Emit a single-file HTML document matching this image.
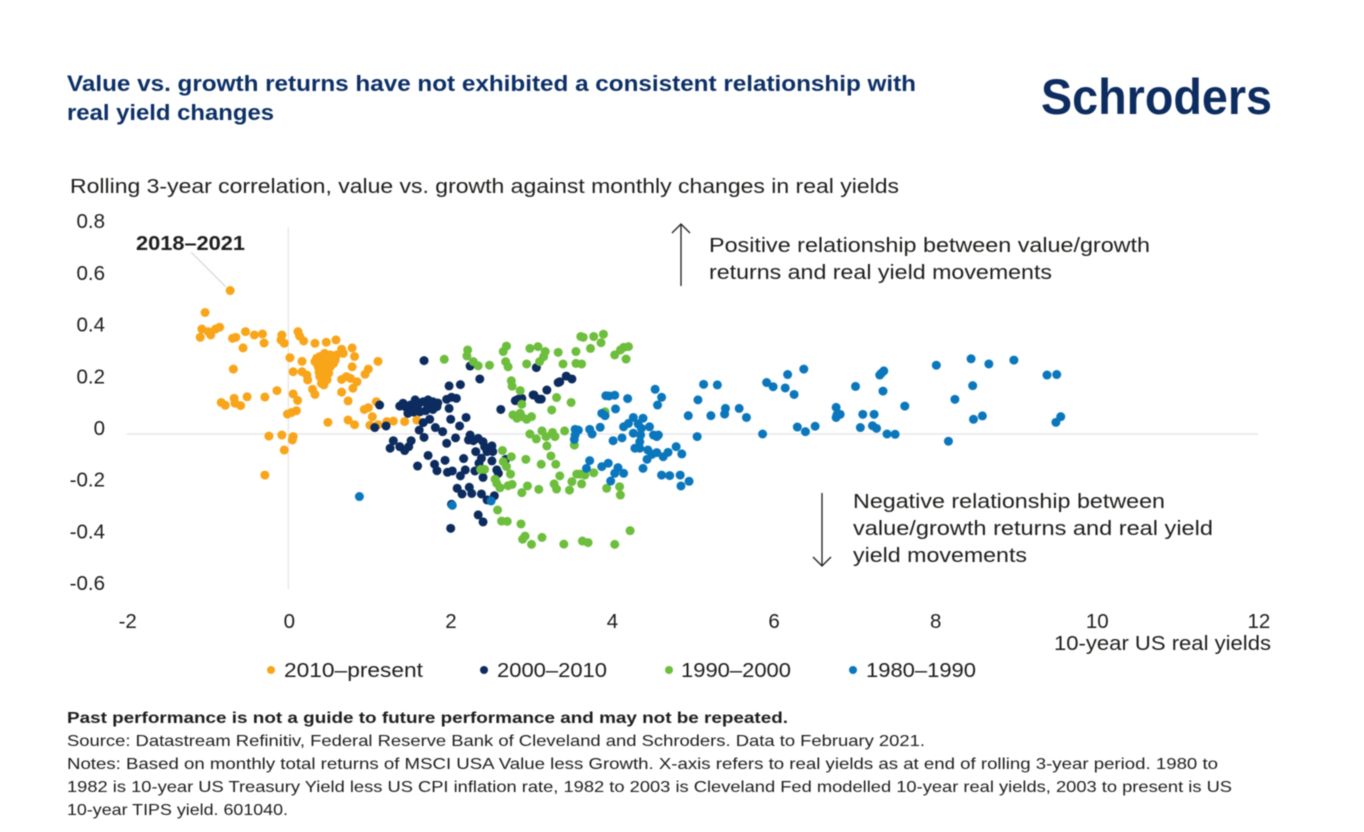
<!DOCTYPE html>
<html lang="en">
<head>
<meta charset="utf-8">
<title>Value vs. growth returns and real yield changes</title>
<style>
html,body{margin:0;padding:0;background:#fff;width:1364px;height:832px;overflow:hidden}
svg{display:block;filter:blur(0.45px)}
text{font-family:"Liberation Sans",sans-serif;fill:#1d1d1b}
.t20{font-size:20.5px}
.foot{font-size:16px}
.title{font-size:22px;font-weight:700;fill:#0c2f66}
</style>
</head>
<body>
<svg id="chart" xmlns="http://www.w3.org/2000/svg" width="1364" height="832" viewBox="0 0 1364 832">
  <rect x="0" y="0" width="1364" height="832" fill="#ffffff"/>
  <text class="title" x="67" y="91" textLength="849" lengthAdjust="spacingAndGlyphs">Value vs. growth returns have not exhibited a consistent relationship with</text>
  <text class="title" x="67" y="120" textLength="207" lengthAdjust="spacingAndGlyphs">real yield changes</text>
  <text x="1041" y="114" font-size="50" font-weight="700" style="fill:#0d2c5f" textLength="231" lengthAdjust="spacingAndGlyphs">Schroders</text>
  <text class="t20" x="70" y="193" textLength="829" lengthAdjust="spacingAndGlyphs">Rolling 3-year correlation, value vs. growth against monthly changes in real yields</text>

  <g id="axes"></g>
  <g id="points"></g>

  <line x1="191" y1="252" x2="226" y2="287" stroke="#d6d6d6" stroke-width="1.2"/>
  <text x="136" y="250" font-size="20" font-weight="700" textLength="109" lengthAdjust="spacingAndGlyphs">2018–2021</text>

  <g fill="none" stroke="#1d1d1b" stroke-width="1.3">
    <line x1="681" y1="286" x2="681" y2="224"/>
    <path d="M672 233 L681 224 L690 233"/>
  </g>
  <text class="t20" x="709" y="252" textLength="441" lengthAdjust="spacingAndGlyphs">Positive relationship between value/growth</text>
  <text class="t20" x="709" y="279" textLength="343" lengthAdjust="spacingAndGlyphs">returns and real yield movements</text>

  <g fill="none" stroke="#1d1d1b" stroke-width="1.3">
    <line x1="822" y1="493" x2="822" y2="566"/>
    <path d="M813 557 L822 566 L831 557"/>
  </g>
  <text class="t20" x="853" y="508" textLength="312" lengthAdjust="spacingAndGlyphs">Negative relationship between</text>
  <text class="t20" x="853" y="535" textLength="360" lengthAdjust="spacingAndGlyphs">value/growth returns and real yield</text>
  <text class="t20" x="853" y="562" textLength="174" lengthAdjust="spacingAndGlyphs">yield movements</text>

  <text class="t20" x="1054" y="650" textLength="217" lengthAdjust="spacingAndGlyphs">10-year US real yields</text>

  <g>
    <circle cx="271" cy="670" r="4" fill="#f9a51a"/>
    <text class="t20" x="284" y="677" textLength="139" lengthAdjust="spacingAndGlyphs">2010–present</text>
    <circle cx="484" cy="670" r="4" fill="#0c2b5e"/>
    <text class="t20" x="497" y="677" textLength="110" lengthAdjust="spacingAndGlyphs">2000–2010</text>
    <circle cx="669" cy="670" r="4" fill="#6cbe3c"/>
    <text class="t20" x="681" y="677" textLength="110" lengthAdjust="spacingAndGlyphs">1990–2000</text>
    <circle cx="853" cy="670" r="4" fill="#0a77bd"/>
    <text class="t20" x="866" y="677" textLength="110" lengthAdjust="spacingAndGlyphs">1980–1990</text>
  </g>

  <text class="foot" x="67" y="723" font-weight="700" textLength="721" lengthAdjust="spacingAndGlyphs">Past performance is not a guide to future performance and may not be repeated.</text>
  <text class="foot" x="67" y="746" textLength="858" lengthAdjust="spacingAndGlyphs">Source: Datastream Refinitiv, Federal Reserve Bank of Cleveland and Schroders. Data to February 2021.</text>
  <text class="foot" x="67" y="769" textLength="1151" lengthAdjust="spacingAndGlyphs">Notes: Based on monthly total returns of MSCI USA Value less Growth. X-axis refers to real yields as at end of rolling 3-year period. 1980 to</text>
  <text class="foot" x="67" y="792" textLength="1165" lengthAdjust="spacingAndGlyphs">1982 is 10-year US Treasury Yield less US CPI inflation rate, 1982 to 2003 is Cleveland Fed modelled 10-year real yields, 2003 to present is US</text>
  <text class="foot" x="67" y="815" textLength="221" lengthAdjust="spacingAndGlyphs">10-year TIPS yield. 601040.</text>
</svg>

<script>
const xTickLabels = ["-2", "0", "2", "4", "6", "8", "10", "12"];
const yTickLabels = ["0.8", "0.6", "0.4", "0.2", "0", "-0.2", "-0.4", "-0.6"];

const series2010 = [
[-0.72,0.555],[-1.03,0.47],[-1.07,0.406],[-1.09,0.374],[-0.99,0.396],[-0.96,0.383],[-0.9,0.406],[-0.85,0.413],[-0.69,0.37],[-0.65,0.374],
[-0.53,0.396],[-0.42,0.383],[-0.32,0.387],[-0.3,0.352],[-0.56,0.333],[-0.08,0.383],[-0.09,0.364],[-0.05,0.351],[0.12,0.396],[0.14,0.379],
[0.19,0.36],[0.33,0.351],[0.47,0.355],[0.59,0.364],[0.66,0.328],[0.79,0.333],[0.82,0.3],[1.11,0.281],[0.99,0.251],[0.95,0.231],
[0.79,0.26],[0.02,0.295],[0.17,0.281],[0.06,0.241],[0.17,0.241],[0.23,0.228],[0.24,0.209],[-0.68,0.251],
[0.33,0.28],[0.39,0.3],[0.45,0.312],[0.52,0.306],[0.6,0.306],[0.68,0.312],[0.37,0.26],[0.43,0.273],[0.5,0.28],[0.56,0.273],
[0.41,0.248],[0.47,0.248],[0.39,0.222],[0.45,0.222],[0.41,0.196],[0.5,0.235],[0.58,0.286],[0.35,0.293],
[0.36,0.27],[0.42,0.29],[0.48,0.3],[0.54,0.29],[0.4,0.265],[0.46,0.265],[0.52,0.26],[0.38,0.24],[0.44,0.235],[0.42,0.21],[0.48,0.21],[0.44,0.19],
[0.66,0.211],[0.72,0.222],[0.77,0.215],[0.85,0.202],[0.8,0.177],[0.66,0.162],[0.74,0.128],[0.3,0.173],[0.33,0.153],[-0.14,0.168],
[-0.29,0.143],[-0.51,0.144],[-0.67,0.138],[-0.83,0.122],[-0.78,0.111],[-0.66,0.119],[-0.59,0.11],[0.06,0.155],[0.115,0.13],[0.1,0.09],
[0.04,0.083],[-0.01,0.077],[0.49,0.045],[0.74,0.054],[0.82,0.036],[0.94,0.095],[0.99,0.102],[1.09,0.125],[1.04,0.067],[1.01,0.034],
[1.11,0.036],[1.22,0.048],[1.3,0.05],[1.44,0.048],[1.59,0.054],[-0.24,-0.008],[-0.08,-0.004],[0.06,-0.01],[0.05,-0.023],[-0.05,-0.062],[-0.29,-0.159]
];

const series2000 = [
[1.68,0.284],[2.25,0.263],[2.37,0.213],[1.99,0.186],[2.13,0.191],[3.07,0.257],[2.63,0.095],[2.83,0.132],[2.89,0.138],[3.04,0.151],
[3.1,0.135],[1.13,0.112],[1.07,0.025],[1.21,0.031],[1.38,0.108],[1.42,0.119],[1.51,0.112],[1.57,0.132],[1.53,0.099],[1.48,0.08],
[1.45,0.105],[1.6,0.11],[1.7,0.09],[1.55,0.085],[1.85,0.12],[1.62,0.12],
[1.63,0.086],[1.67,0.125],[1.73,0.132],[1.79,0.125],[1.84,0.106],[1.73,0.108],[1.79,0.095],[1.96,0.134],[2.02,0.142],[2.08,0.138],
[1.99,0.099],[1.75,0.057],[1.67,0.044],[1.62,0.015],[1.68,-0.013],[1.82,0.025],[1.91,0.009],[2.01,0.057],[2.2,0.064],[2.12,0.031],
[2.07,-0.015],[1.96,-0.036],[1.3,-0.026],[1.26,-0.055],[1.38,-0.049],[1.44,-0.064],[1.49,-0.049],[1.52,-0.026],[1.73,-0.083],[1.6,-0.124],
[1.81,-0.117],[1.84,-0.142],[1.94,-0.102],[2.17,-0.095],[1.97,-0.148],[2.03,-0.143],[2.13,-0.162],[2.19,-0.139],[2.25,-0.004],[2.23,-0.023],
[2.29,-0.026],[2.35,-0.017],[2.41,-0.03],[2.32,-0.068],[2.43,-0.049],[2.52,-0.046],[2.46,-0.068],[2.53,-0.068],[2.39,-0.094],[2.52,-0.104],
[2.36,-0.113],[2.31,-0.143],[2.58,-0.139],[2.6,-0.152],[2.41,-0.168],[2.09,-0.21],[2.15,-0.232],[2.24,-0.206],[2.27,-0.23],[2.39,-0.232],
[2.46,-0.255],[2.55,-0.239],[2.35,-0.313],[2.41,-0.34],[2.01,-0.365],[2.02,-0.272],[2.69,-0.098],[3.36,0.202],[3.44,0.224],[3.51,0.213],
[3.34,0.199],[3.2,0.17],[3.13,0.135],[3.03,0.151],[2.85,0.135],[2.81,0.129]
];

const series1990 = [
[3.62,0.377],[3.65,0.374],[3.78,0.377],[3.9,0.386],[3.87,0.353],[3.74,0.331],[4.21,0.338],[4.15,0.335],[4.11,0.325],[4.04,0.306],
[4.18,0.29],[2.7,0.34],[2.66,0.319],[2.99,0.331],[3.09,0.338],[3.18,0.319],[3.16,0.299],[3.11,0.28],[3.34,0.316],[3.56,0.319],
[3.4,0.271],[3.56,0.273],[3.63,0.271],[2.69,0.28],[2.72,0.26],[2.95,0.271],[2.49,0.266],[2.35,0.264],[1.93,0.289],[2.22,0.325],
[2.21,0.302],[2.29,0.28],[2.76,0.206],[2.77,0.185],[2.87,0.168],[2.89,0.115],[3.32,0.141],[3.5,0.122],[3.26,0.093],[2.78,0.074],
[2.83,0.061],[2.89,0.067],[2.95,0.057],[3.01,0.067],[2.87,0.08],[2.99,0],[3.07,-0.019],[3.14,0.012],[3.19,-0.01],[3.27,0.006],
[3.3,-0.01],[3.42,0.012],[3.2,-0.046],[3.54,-0.043],[2.65,-0.064],[2.76,-0.088],[2.66,-0.107],[2.7,-0.126],[2.75,-0.155],[2.94,-0.098],
[3.13,-0.117],[3.25,-0.085],[3.31,-0.117],[2.43,-0.137],[2.38,-0.137],[2.56,-0.175],[2.58,-0.191],[2.62,-0.208],[2.72,-0.2],[2.77,-0.195],
[2.96,-0.201],[2.89,-0.227],[3.1,-0.214],[3.29,-0.193],[3.32,-0.213],[3.36,-0.162],[3.48,-0.217],[3.51,-0.184],[3.63,-0.193],[3.57,-0.155],
[3.61,-0.155],[3.67,-0.159],[3.78,-0.15],[3.94,-0.21],[4.1,-0.204],[4.11,-0.236],[2.59,-0.294],[2.64,-0.337],[2.71,-0.338],[2.88,-0.348],
[2.93,-0.395],[2.9,-0.407],[3.01,-0.427],[3.14,-0.4],[3.41,-0.426],[3.64,-0.414],[3.71,-0.42],[4.04,-0.427],[4.23,-0.374],[3.92,0.086]
];

const series1980 = [
[5.14,0.192],[5.31,0.19],[5.07,0.132],[4.95,0.071],[5.23,0.071],[5.06,-0.01],[4.54,0.173],[4.62,0.142],[4.57,0.112],[4.2,0.137],
[4.05,0.097],[3.93,0.148],[3.97,0.147],[4.04,0.15],[3.88,0.08],[3.92,0.071],[3.86,0.026],[4.27,0.064],[4.39,0.061],[4.21,0.041],
[4.15,0.028],[4.33,0.039],[4.37,0.022],[4.47,0.028],[4.27,0.003],[4.36,-0.004],[4.52,-0.004],[4.58,-0.004],[4.56,-0.01],[4.13,-0.015],
[4.02,-0.026],[4.35,-0.03],[4.29,-0.055],[4.35,-0.055],[3.55,0.018],[3.59,0.015],[3.55,-0.004],[3.54,-0.021],[3.73,0.018],[3.76,0],
[4.45,-0.062],[4.5,-0.079],[4.56,-0.072],[4.64,-0.088],[4.7,-0.071],[4.8,-0.049],[4.87,-0.077],[4.44,-0.098],[4.39,-0.133],[4.62,-0.159],
[4.72,-0.161],[4.85,-0.159],[4.96,-0.183],[4.86,-0.201],[3.73,-0.103],[3.69,-0.133],[3.88,-0.126],[3.96,-0.113],[4.08,-0.13],[4.15,-0.152],
[4.04,-0.152],[3.99,-0.182],[0.88,-0.242],[2.03,-0.276],[2.51,-0.259],[5.41,0.099],[5.4,0.077],[5.58,0.099],[5.67,0.064],[5.87,0],
[5.92,0.199],[6,0.183],[6.15,0.178],[6.26,0.153],[6.18,0.23],[6.38,0.251],[6.3,0.027],[6.4,0.009],[6.52,0.03],[6.78,0.103],
[6.83,0.076],[6.78,0.064],[6.79,0.074],[7.02,0.184],[7.11,0.076],[7.25,0.076],[7.08,0.025],[7.23,0.032],[7.28,0.022],[7.41,0],
[7.51,-0.001],[7.32,0.228],[7.34,0.235],[7.37,0.244],[7.36,0.166],[7.63,0.108],[8.02,0.266],[8.25,0.134],[8.17,-0.028],[8.45,0.291],
[8.67,0.271],[8.47,0.187],[8.48,0.057],[8.59,0.07],[8.98,0.286],[9.39,0.228],[9.51,0.23],[9.5,0.045],[9.56,0.067]
];

const SVG_NS = "http://www.w3.org/2000/svg";
const xScale = function (v) { return 288.3 + 80.8 * v; };
const yScale = function (v) { return 434 - 258.5 * v; };

const axes = document.getElementById("axes");
const points = document.getElementById("points");

const xZeroLine = document.createElementNS(SVG_NS, "line");


xZeroLine.setAttribute("x1", xScale(-2));
xZeroLine.setAttribute("x2", xScale(12));
xZeroLine.setAttribute("y1", yScale(0));
xZeroLine.setAttribute("y2", yScale(0));
xZeroLine.setAttribute("stroke", "#e4e4e4");
xZeroLine.setAttribute("stroke-width", "1.2");
axes.appendChild(xZeroLine);

const yZeroLine = document.createElementNS(SVG_NS, "line");


yZeroLine.setAttribute("x1", xScale(0));
yZeroLine.setAttribute("x2", xScale(0));
yZeroLine.setAttribute("y1", yScale(0.8));
yZeroLine.setAttribute("y2", yScale(-0.6));
yZeroLine.setAttribute("stroke", "#e4e4e4");
yZeroLine.setAttribute("stroke-width", "1.2");
axes.appendChild(yZeroLine);

xTickLabels.forEach(function (label) {
  const t = document.createElementNS(SVG_NS, "text");
  
  
  t.setAttribute("x", xScale(parseFloat(label)) + 1);
  t.setAttribute("y", 628);
  t.setAttribute("text-anchor", "middle");
  t.setAttribute("font-size", "20.5");
  t.textContent = label;
  axes.appendChild(t);
});

yTickLabels.forEach(function (label) {
  const t = document.createElementNS(SVG_NS, "text");
  
  
  t.setAttribute("x", 105);
  t.setAttribute("y", yScale(parseFloat(label)) + 1);
  t.setAttribute("text-anchor", "end");
  t.setAttribute("font-size", "20.5");
  t.textContent = label;
  axes.appendChild(t);
});

function drawSeries(data, color, groupName) {
  const g = document.createElementNS(SVG_NS, "g");
  
  
  data.forEach(function (d) {
    const c = document.createElementNS(SVG_NS, "circle");
    
    
    c.setAttribute("cx", xScale(d[0]));
    c.setAttribute("cy", yScale(d[1]));
    c.setAttribute("r", 4.5);
    c.setAttribute("fill", color);
    g.appendChild(c);
  });
  points.appendChild(g);
}

drawSeries(series2010, "#f9a51a", "series-2010-present");
drawSeries(series2000, "#0c2b5e", "series-2000-2010");
drawSeries(series1990, "#6cbe3c", "series-1990-2000");
drawSeries(series1980, "#0a77bd", "series-1980-1990");
</script>
</body>
</html>
